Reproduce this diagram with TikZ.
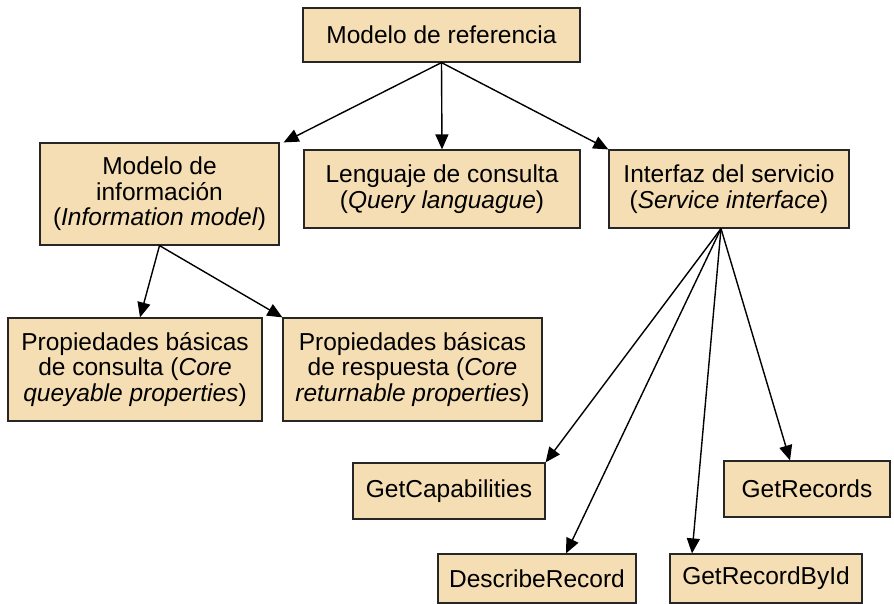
\documentclass[tikz,border=0pt]{standalone}
\usepackage{fontspec}
\setmainfont{Liberation Sans}
\usetikzlibrary{arrows.meta}
\definecolor{boxfill}{RGB}{245,222,179}

\begin{document}
\begin{tikzpicture}[x=1pt,y=-1pt,
    box/.style={draw=black!85,fill=boxfill,line width=1.2pt,inner sep=0pt,align=center,
      font=\fontsize{24.5}{25.5}\selectfont},
    link/.style={-{Triangle[length=15pt,width=13pt]},line width=1.4pt}]
    \useasboundingbox (0,0) rectangle (894,604);
    % top level
    \node[box,minimum width=277pt,minimum height=54pt] (ref) at (441.5,35) {Modelo de referencia};
    \node[box,minimum width=239pt,minimum height=102pt] (info) at (159.5,194) {Modelo de\\información\\(\textit{Information model})};
    \node[box,minimum width=276pt,minimum height=78pt] (lang) at (442,189) {Lenguaje de consulta\\(\textit{Query languague})};
    \node[box,minimum width=240pt,minimum height=78pt] (svc) at (729,189) {Interfaz del servicio\\(\textit{Service interface})};
    % properties
    \node[box,minimum width=254pt,minimum height=103pt] (qprop) at (135,369.5) {Propiedades básicas\\de consulta (\textit{Core}\\\textit{queyable properties})};
    \node[box,minimum width=259pt,minimum height=103pt] (rprop) at (412.5,369.5) {Propiedades básicas\\de respuesta (\textit{Core}\\\textit{returnable properties})};
    % operations
    \node[box,minimum width=192pt,minimum height=56pt] (caps) at (449,491) {GetCapabilities};
    \node[box,minimum width=166pt,minimum height=56pt] (recs) at (807,489) {GetRecords};
    \node[box,minimum width=198pt,minimum height=49pt] (desc) at (537,578.5) {DescribeRecord};
    \node[box,minimum width=192pt,minimum height=49pt] (byid) at (766,578.5) {GetRecordById};

    \draw[link] (ref.south) -- ([xshift=4pt]info.north east);
    \draw[link] (ref.south) -- (lang.north);
    \draw[link] (ref.south) -- (svc.north west);
    \draw[link] (info.south) -- ([xshift=5pt]qprop.north);
    \draw[link] (info.south) -- (rprop.north west);
    \draw[link] ([xshift=-8pt]svc.south) -- (caps.north east);
    \draw[link] ([xshift=-8pt]svc.south) -- ([xshift=29pt]desc.north);
    \draw[link] ([xshift=-8pt]svc.south) -- ([xshift=-74pt]byid.north);
    \draw[link] ([xshift=-8pt]svc.south) -- ([xshift=-17pt]recs.north);
\end{tikzpicture}
\end{document}
